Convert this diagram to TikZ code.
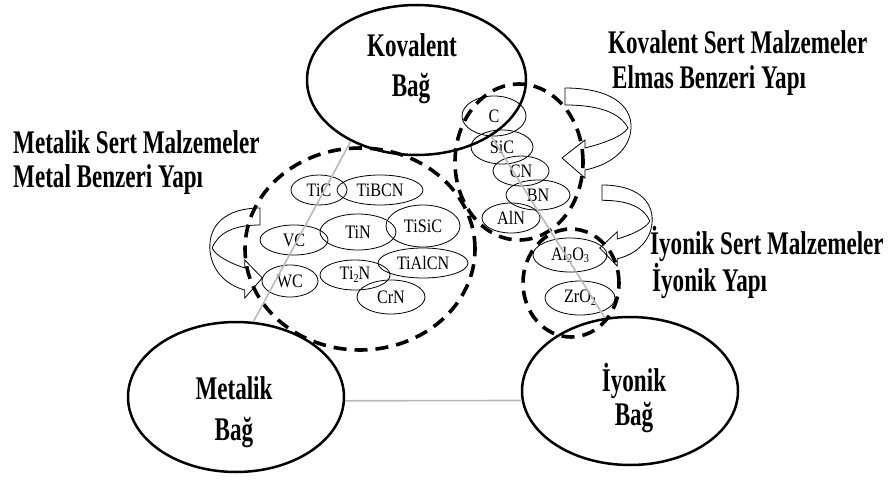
\documentclass[tikz,border=0pt]{standalone}
\usepackage{fontspec}
\usepackage{graphicx}
\usetikzlibrary{shapes.geometric}
\setmainfont{Liberation Serif}
\newfontfamily\condb{Liberation Serif Bold}[FakeStretch=0.70]
\newfontfamily\conds{Liberation Serif}[FakeStretch=0.85]
\newcommand\sbs[1]{\raisebox{-0.3ex}{\fontsize{12}{12}\selectfont #1}}
\tikzset{
  bigell/.style={ellipse, draw, line width=2.5pt, inner sep=0pt},
  smell/.style={ellipse, draw, line width=0.8pt, inner sep=0pt, font=\conds\fontsize{19}{20}\selectfont},
  grp/.style={ellipse, draw, line width=3.6pt, dash pattern=on 13pt off 8pt, inner sep=0pt},
  bigtxt/.style={font=\condb\fontsize{33}{36}\selectfont, inner sep=0pt},
  link/.style={draw=gray!55, line width=1.6pt},
  curvearrow/.pic={
    \draw[line width=0.8pt, line join=miter]
      (0,0) .. controls (45,0) and (67,17) .. (66,40)
      .. controls (65,62) and (45,77) .. (20,82) -- (20,90) -- (-3,70) -- (20,52) -- (20,60)
      .. controls (40,55) and (58,48) .. (63,40)
      .. controls (55,25) and (35,17) .. (0,17) -- cycle;
  }
}
\begin{document}
\begin{tikzpicture}[x=1pt,y=-1pt]
\useasboundingbox (0,0) rectangle (891,479);
% group dashed outlines
\node[grp, minimum width=230pt, minimum height=202pt] (gmet) at (360,249) {};
\node[grp, minimum width=128pt, minimum height=156pt] (gkov) at (519,162) {};
\node[grp, minimum width=96pt, minimum height=108pt] (gion) at (571,283) {};
% main bond ellipses
\node[bigell, minimum width=219pt, minimum height=150pt] (kov) at (416.5,80) {};
\node[bigell, minimum width=216pt, minimum height=150pt] (met) at (236,397) {};
\node[bigell, minimum width=216pt, minimum height=148pt] (ion) at (630,391) {};
\node[bigtxt, anchor=base] (kovt1) at (412,56) {Kovalent};
\node[bigtxt, anchor=base] (kovt2) at (411,96) {Bağ};
\node[bigtxt, anchor=base] (mett1) at (234,399) {Metalik};
\node[bigtxt, anchor=base] (mett2) at (234,440) {Bağ};
\node[bigtxt, anchor=base] (iont1) at (634,391) {İyonik};
\node[bigtxt, anchor=base] (iont2) at (634,425) {Bağ};
% titles
\node[bigtxt, anchor=base west] (t1) at (608,53) {Kovalent Sert Malzemeler};
\node[bigtxt, anchor=base west] (t2) at (612,88) {Elmas Benzeri Yapı};
\node[bigtxt, anchor=base west] (t3) at (13,153) {Metalik Sert Malzemeler};
\node[bigtxt, anchor=base west] (t4) at (13,187) {Metal Benzeri Yapı};
\node[bigtxt, anchor=base west] (t5) at (650,254) {İyonik Sert Malzemeler};
\node[bigtxt, anchor=base west] (t6) at (652,291) {İyonik Yapı};
% metallic hard materials
\node[smell, minimum width=56pt, minimum height=30pt] (tic) at (319,190) {TiC};
\node[smell, minimum width=86pt, minimum height=30pt] (tibcn) at (380,190) {TiBCN};
\node[smell, minimum width=74pt, minimum height=42pt] (tisic) at (423,226) {TiSiC};
\node[smell, minimum width=76pt, minimum height=36pt] (tin) at (358,232) {TiN};
\node[smell, minimum width=68pt, minimum height=30pt] (vc) at (294,240) {VC};
\node[smell, minimum width=90pt, minimum height=30pt] (tialcn) at (423,263) {TiAlCN};
\node[smell, minimum width=70pt, minimum height=30pt] (ti2n) at (355,275) {Ti\sbs{2}N};
\node[smell, minimum width=56pt, minimum height=32pt] (wc) at (290,281) {WC};
\node[smell, minimum width=68pt, minimum height=34pt] (crn) at (391,297) {CrN};
% covalent hard materials
\node[smell, minimum width=64pt, minimum height=40pt] (c) at (494,116) {C};
\node[smell, minimum width=62pt, minimum height=34pt] (sic) at (502,147) {SiC};
\node[smell, minimum width=56pt, minimum height=30pt] (cn) at (521,171) {CN};
\node[smell, minimum width=64pt, minimum height=30pt] (bn) at (538,195) {BN};
\node[smell, minimum width=58pt, minimum height=30pt] (aln) at (511,218) {AlN};
% ionic hard materials
\node[smell, minimum width=74pt, minimum height=34pt] (alo) at (570,255) {Al\sbs{2}O\sbs{3}};
\node[smell, minimum width=70pt, minimum height=34pt] (zro) at (580,298) {ZrO\sbs{2}};
% links between bonds
\draw[link] (kov.-137) -- (met.77);
\draw[link] (kov.-37) -- (ion.109);
\draw[link] (met.-2) -- (ion.185);
% curved arrows
\pic at (565,88) {curvearrow};
\pic[xscale=0.76, yscale=0.9] at (602,185) {curvearrow};
\pic[xscale=-0.76] at (260,208) {curvearrow};
\end{tikzpicture}
\end{document}
